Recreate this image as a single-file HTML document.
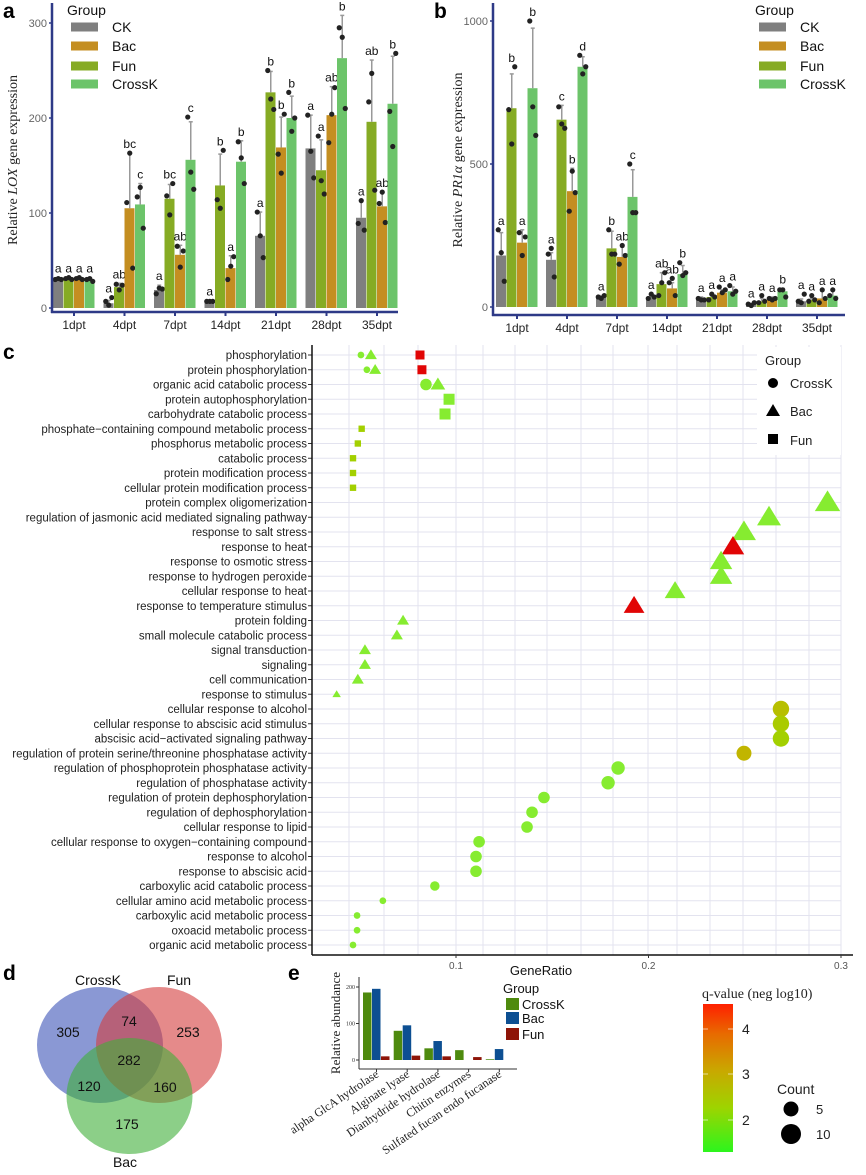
<!DOCTYPE html>
<html><head><meta charset="utf-8"><style>
html,body{margin:0;padding:0;background:#fff;}
svg{display:block;font-family:"Liberation Sans",sans-serif;}
</style></head><body>
<svg id="fig" width="866" height="1175" viewBox="0 0 866 1175" xmlns="http://www.w3.org/2000/svg">
<defs>
<linearGradient id="qgrad" x1="0" y1="1" x2="0" y2="0">
<stop offset="0" stop-color="#2cf51d"/><stop offset="0.3" stop-color="#9ed400"/><stop offset="0.55" stop-color="#c9a800"/><stop offset="0.8" stop-color="#e86a00"/><stop offset="1" stop-color="#ff2000"/>
</linearGradient>
</defs>
<g id="pa"></g>
<g id="pb"></g>
<g id="pc"></g>
<g id="pd">
<ellipse cx="100" cy="1045" rx="63" ry="58" fill="#3c53b7" fill-opacity="0.6"/>
<ellipse cx="159" cy="1045" rx="63" ry="58" fill="#d43c3c" fill-opacity="0.6"/>
<ellipse cx="129.5" cy="1096" rx="63" ry="58" fill="#3faf39" fill-opacity="0.6"/>
<g font-size="14" fill="#111" text-anchor="middle">
<text x="98" y="985">CrossK</text>
<text x="179" y="985">Fun</text>
<text x="125" y="1167">Bac</text>
<text x="68" y="1037">305</text>
<text x="129" y="1026">74</text>
<text x="188" y="1037">253</text>
<text x="129" y="1065">282</text>
<text x="89" y="1091">120</text>
<text x="165" y="1092">160</text>
<text x="127" y="1129">175</text>
</g>
</g>
<g id="pe"></g>
<g font-weight="bold" font-size="21" fill="#000">
<text x="3" y="18">a</text>
<text x="434" y="18">b</text>
<text x="3" y="359">c</text>
<text x="3" y="980">d</text>
<text x="288" y="980">e</text>
</g>
</svg>
<script>
// ---------- Panel a / b data ----------
const timeCats = ["1dpt","4dpt","7dpt","14dpt","21dpt","28dpt","35dpt"];
const seriesOrder = ["CK","Fun","Bac","CrossK"];
const aMeanCK = [30,5,19,6,76,168,95];
const aMeanFun = [30,22,115,129,227,145,196];
const aMeanBac = [30,105,56,42,169,203,107];
const aMeanCrossK = [30,109,156,154,200,263,215];
const aSdCK = [2,3,5,2,25,35,17];
const aSdFun = [2,4,15,33,22,32,65];
const aSdBac = [2,58,10,13,32,30,15];
const aSdCrossK = [2,22,40,22,23,45,50];
const aRepCK = [[30,31,30],[7,3,11],[15,21,20],[7,7,7],[101,76,53],[203,165,137],[89,113,82]];
const aRepFun = [[31,32,30],[25,19,24],[118,98,131],[114,105,166],[250,220,209],[181,134,120],[217,247,124]];
const aRepBac = [[31,32,30],[111,163,42],[65,43,60],[30,44,54],[162,142,204],[174,204,232],[110,122,90]];
const aRepCrossK = [[30,31,28],[117,127,84],[201,143,125],[175,158,131],[227,186,200],[295,285,210],[207,170,268]];
const aLetCK = ["a","a","a","a","a","a","a"];
const aLetFun = ["a","ab","bc","b","b","a","ab"];
const aLetBac = ["a","bc","ab","a","b","ab","ab"];
const aLetCrossK = ["a","c","c","b","b","b","b"];
const aTicks = [0,100,200,300];

const bMeanCK = [180,165,35,35,30,10,20];
const bMeanFun = [695,655,205,80,35,20,25];
const bMeanBac = [225,405,175,65,50,25,30];
const bMeanCrossK = [765,840,385,115,55,55,40];
const bSdCK = [80,25,5,10,5,3,8];
const bSdFun = [120,50,60,40,10,10,5];
const bSdBac = [45,80,35,20,10,10,25];
const bSdCrossK = [210,35,95,30,15,10,20];
const bRepCK = [[270,190,90],[185,205,105],[35,30,40],[30,45,35],[30,25,25],[10,5,15],[20,15,45]];
const bRepFun = [[690,570,840],[700,640,625],[270,185,185],[40,85,120],[25,45,35],[15,40,20],[20,40,25]];
const bRepBac = [[260,180,245],[335,475,400],[150,215,180],[85,100,40],[70,50,60],[30,25,30],[15,60,30]];
const bRepCrossK = [[1000,700,600],[880,815,840],[500,330,330],[155,110,120],[75,45,55],[60,60,35],[40,60,30]];
const bLetCK = ["a","a","a","a","a","a","a"];
const bLetFun = ["b","c","b","ab","a","a","a"];
const bLetBac = ["a","b","ab","ab","a","a","a"];
const bLetCrossK = ["b","d","c","b","a","b","a"];
const bTicks = [0,500,1000];

// ---------- Panel c data ----------
const goTerms = ["phosphorylation","protein phosphorylation","organic acid catabolic process","protein autophosphorylation","carbohydrate catabolic process","phosphate\u2212containing compound metabolic process","phosphorus metabolic process","catabolic process","protein modification process","cellular protein modification process","protein complex oligomerization","regulation of jasmonic acid mediated signaling pathway","response to salt stress","response to heat","response to osmotic stress","response to hydrogen peroxide","cellular response to heat","response to temperature stimulus","protein folding","small molecule catabolic process","signal transduction","signaling","cell communication","response to stimulus","cellular response to alcohol","cellular response to abscisic acid stimulus","abscisic acid\u2212activated signaling pathway","regulation of protein serine/threonine phosphatase activity","regulation of phosphoprotein phosphatase activity","regulation of phosphatase activity","regulation of protein dephosphorylation","regulation of dephosphorylation","cellular response to lipid","cellular response to oxygen\u2212containing compound","response to alcohol","response to abscisic acid","carboxylic acid catabolic process","cellular amino acid metabolic process","carboxylic acid metabolic process","oxoacid metabolic process","organic acid metabolic process"];
const ptTerm =  [0,0,0, 1,1,1, 2,2, 3,4, 5,6,7,8,9, 10,11,12,13,14,15,16,17,18,19,20,21,22,23, 24,25,26,27,28,29,30,31,32,33,34,35,36,37,38,39,40];
const ptGroup = ["CrossK","Bac","Fun","CrossK","Bac","Fun","CrossK","Bac","Fun","Fun","Fun","Fun","Fun","Fun","Fun","Bac","Bac","Bac","Bac","Bac","Bac","Bac","Bac","Bac","Bac","Bac","Bac","Bac","Bac","CrossK","CrossK","CrossK","CrossK","CrossK","CrossK","CrossK","CrossK","CrossK","CrossK","CrossK","CrossK","CrossK","CrossK","CrossK","CrossK","CrossK"];
const ptRatio = [0.0506,0.0558,0.0813, 0.0537,0.058,0.0823, 0.0844,0.0906, 0.0964,0.0943, 0.051,0.049,0.0465,0.0465,0.0465, 0.293,0.2626,0.2496,0.2439,0.2377,0.2377,0.2138,0.1925,0.0725,0.0693,0.0527,0.0527,0.049,0.038, 0.2688,0.2688,0.2688,0.2496,0.1842,0.179,0.1457,0.1395,0.1369,0.112,0.1104,0.1104,0.089,0.062,0.0486,0.0486,0.0465];
const ptCount = [1,2,2, 1,2,2, 3,3, 3,3, 1,1,1,1,1, 9,8,8,7,7,7,6,6,2,2,2,2,2,1, 6,6,6,5,4,4,3,3,3,3,3,3,2,1,1,1,1];
const ptQ = [1.9,1.9,4.4, 1.9,1.9,4.4, 1.9,1.9, 2.0,1.9, 2.2,2.2,2.2,2.2,2.2, 1.9,1.9,1.9,4.4,1.9,1.9,1.9,4.4,1.9,1.9,1.9,1.9,1.9,1.9, 2.5,2.3,2.2,2.7,2.0,2.0,1.9,1.9,1.9,1.9,1.9,1.9,1.9,1.9,1.9,1.9,1.9];
const cTicks = [0.1,0.2,0.3];

// ---------- Panel e data ----------
const eCats = ["alpha GlcA hydrolase","Alginate lyase","Dianhydride hydrolase","Chitin enzymes","Sulfated fucan endo fucanase"];
const eCrossK = [185,80,32,27,2];
const eBac = [195,95,52,0,30];
const eFun = [10,12,10,8,0];
const eTicks = [0,100,200];

const NS="http://www.w3.org/2000/svg";
function mk(tag, attrs, parent, text){
  const e=document.createElementNS(NS,tag);
  for(const k in attrs) e.setAttribute(k,attrs[k]);
  if(text!==undefined) e.textContent=text;
  parent.appendChild(e); return e;
}
const colors={CK:"#7f7f7f",Bac:"#c48e21",Fun:"#86ab24",CrossK:"#6cc46a"};

function barPanel(g, cfg){
  const y=v=>cfg.y0 - v*cfg.k;
  let t=mk("text",{x:cfg.legX-4,y:15,"font-size":14,fill:"#111"},g,"Group");
  
  
  const legOrder=["CK","Bac","Fun","CrossK"], legY=[27,46,66,84];
  legOrder.forEach((s,i)=>{
    let r=mk("rect",{x:cfg.legX,y:legY[i]-4.5,width:27,height:9,fill:colors[s]},g);
    
    
    let tt=mk("text",{x:cfg.legX+41,y:legY[i]+5,"font-size":14,fill:"#111"},g,s);
    
    
  });
  cfg.ticks.forEach(v=>{
    let l=mk("text",{x:cfg.axX-5,y:y(v)+4,"font-size":11,fill:"#666","text-anchor":"end"},g,String(v));
    
    
    mk("line",{x1:cfg.axX-3,x2:cfg.axX,y1:y(v),y2:y(v),stroke:"#2e3a87","stroke-width":1.5},g);
  });
  const series={CK:[cfg.m.CK,cfg.sd.CK,cfg.rep.CK,cfg.let.CK],Fun:[cfg.m.Fun,cfg.sd.Fun,cfg.rep.Fun,cfg.let.Fun],Bac:[cfg.m.Bac,cfg.sd.Bac,cfg.rep.Bac,cfg.let.Bac],CrossK:[cfg.m.CrossK,cfg.sd.CrossK,cfg.rep.CrossK,cfg.let.CrossK]};
  const jit=[-3,0,3];
  timeCats.forEach((c,ci)=>{
    seriesOrder.forEach((s,si)=>{
      const [m,sd,rep,lt]=series[s];
      const x=cfg.gx0+ci*cfg.gstep+si*cfg.bw;
      let b=mk("rect",{x:x,y:y(m[ci]),width:cfg.bw-0.5,height:m[ci]*cfg.k,fill:colors[s]},g);
      
      
      const cx=x+cfg.bw/2, top=y(m[ci]+sd[ci]);
      mk("line",{x1:cx,x2:cx,y1:y(m[ci]),y2:top,stroke:"#999","stroke-width":1.5},g);
      mk("line",{x1:cx-2,x2:cx+2,y1:top,y2:top,stroke:"#999","stroke-width":1.5},g);
      let mx=m[ci]+sd[ci];
      rep[ci].forEach((v,ri)=>{
        mx=Math.max(mx,v);
        let d=mk("circle",{cx:cx+jit[ri],cy:y(v),r:2.6,fill:"#222"},g);
        
        
      });
      let lt2=mk("text",{x:cx,y:Math.min(y(mx)-5,y(m[ci])-6),"font-size":12,fill:"#111","text-anchor":"middle"},g,lt[ci]);
      
      
    });
    const tx=cfg.gx0+ci*cfg.gstep+2*cfg.bw;
    mk("line",{x1:tx,x2:tx,y1:cfg.axY,y2:cfg.axY+4,stroke:"#2e3a87","stroke-width":2},g);
    let xl=mk("text",{x:tx,y:cfg.axY+17,"font-size":12,fill:"#222","text-anchor":"middle"},g,c);
    
    
  });
  let ya=mk("line",{x1:cfg.axX,x2:cfg.axX,y1:3,y2:cfg.axY+1,stroke:"#2e3a87","stroke-width":2.5},g);
  
  
  let xa=mk("line",{x1:cfg.axX-1,x2:cfg.axEnd,y1:cfg.axY,y2:cfg.axY,stroke:"#2e3a87","stroke-width":2.5},g);
  
  
  let yt=mk("text",{transform:`translate(${cfg.ytX},160) rotate(-90)`,"font-size":14,"text-anchor":"middle","font-family":"Liberation Serif, serif",fill:"#222"},g);
  
  
  mk("tspan",{},yt,"Relative ");
  mk("tspan",{"font-style":"italic"},yt,cfg.gene);
  mk("tspan",{},yt," gene expression");
}
barPanel(document.getElementById("pa"),{y0:308,k:0.95,axX:52,axY:312,axEnd:398,gx0:53,gstep:50.5,bw:10.5,ticks:aTicks,legX:71,ytX:17,gene:"LOX",
  m:{CK:aMeanCK,Fun:aMeanFun,Bac:aMeanBac,CrossK:aMeanCrossK},sd:{CK:aSdCK,Fun:aSdFun,Bac:aSdBac,CrossK:aSdCrossK},
  rep:{CK:aRepCK,Fun:aRepFun,Bac:aRepBac,CrossK:aRepCrossK},let:{CK:aLetCK,Fun:aLetFun,Bac:aLetBac,CrossK:aLetCrossK}});
barPanel(document.getElementById("pb"),{y0:307,k:0.286,axX:493,axY:315,axEnd:845,gx0:496,gstep:50,bw:10.5,ticks:bTicks,legX:759,ytX:462,gene:"PR1\u03b1",
  m:{CK:bMeanCK,Fun:bMeanFun,Bac:bMeanBac,CrossK:bMeanCrossK},sd:{CK:bSdCK,Fun:bSdFun,Bac:bSdBac,CrossK:bSdCrossK},
  rep:{CK:bRepCK,Fun:bRepFun,Bac:bRepBac,CrossK:bRepCrossK},let:{CK:bLetCK,Fun:bLetFun,Bac:bLetBac,CrossK:bLetCrossK}});

// ---------- Panel c ----------
(function(){
  const g=document.getElementById("pc");
  const xs=v=>456+(v-0.1)*1925;
  const ys=i=>355+i*14.75;
  const left=312, right=841, top=345, bot=955;
  [349,384,418,456,483,515,547,581,613,648,677,710,743,776,809,841].forEach(x=>{
    mk("line",{x1:x,x2:x,y1:top,y2:bot,stroke:"#e3e3ef","stroke-width":1},g);
  });
  goTerms.forEach((t,i)=>{
    mk("line",{x1:left,x2:right,y1:ys(i),y2:ys(i),stroke:"#e3e3ef","stroke-width":1},g);
    let l=mk("text",{x:307,y:ys(i)+4,"font-size":11.5,fill:"#222","text-anchor":"end"},g,t);
    
    
    mk("line",{x1:308,x2:312,y1:ys(i),y2:ys(i),stroke:"#333","stroke-width":1},g);
  });
  function qcol(q){
    const stops=[[1.3,[44,245,29]],[2.0,[150,220,0]],[2.6,[190,185,0]],[3.0,[201,168,0]],[4.0,[232,106,0]],[4.4,[225,5,5]],[4.55,[255,0,0]]];
    if(q<=stops[0][0])return "rgb("+stops[0][1]+")";
    for(let i=1;i<stops.length;i++){if(q<=stops[i][0]){const a=stops[i-1],b=stops[i];const t=(q-a[0])/(b[0]-a[0]);return "rgb("+a[1].map((c,j)=>Math.round(c+(b[1][j]-c)*t)).join(",")+")";}}
    return "rgb(255,0,0)";
  }
  mk("rect",{x:757,y:347,width:84,height:108,fill:"#fff"},g);
  ptTerm.forEach((ti,k)=>{
    const cx=xs(ptRatio[k]), cy=ys(ti), r=3.35*Math.sqrt(ptCount[k]);
    let fill=qcol(ptQ[k]); if(ptQ[k]<2.05&&ptQ[k]>1.8)fill="#86ec30";
    let el;
    if(ptGroup[k]==="CrossK") el=mk("circle",{cx:cx,cy:cy,r:r,fill:fill},g);
    else if(ptGroup[k]==="Bac"){const h=r*1.15;el=mk("polygon",{points:`${cx},${cy-h*1.05} ${cx-h*1.1},${cy+h*0.75} ${cx+h*1.1},${cy+h*0.75}`,fill:fill},g);}
    else {const h=r*0.95;el=mk("rect",{x:cx-h,y:cy-h,width:2*h,height:2*h,fill:fill},g);}
    
    
  });
  let ya=mk("line",{x1:left,x2:left,y1:top,y2:bot,stroke:"#111","stroke-width":1.5},g);
  
  
  let xa=mk("line",{x1:left,x2:853,y1:bot,y2:bot,stroke:"#111","stroke-width":1.5},g);
  
  
  cTicks.forEach(v=>{
    mk("line",{x1:xs(v),x2:xs(v),y1:bot,y2:bot+3,stroke:"#333"},g);
    let l=mk("text",{x:xs(v),y:bot+14,"font-size":10,fill:"#555","text-anchor":"middle"},g,String(v));
    
    
  });
  let xt=mk("text",{x:541,y:975,"font-size":13,fill:"#111","text-anchor":"middle"},g,"GeneRatio");
  
  
  let lt=mk("text",{x:765,y:365,"font-size":13,fill:"#222"},g,"Group");
  
  
  mk("circle",{cx:773,cy:383,r:5,fill:"#000"},g);
  mk("polygon",{points:"773,404 766,416 780,416",fill:"#000"},g);
  mk("rect",{x:768,y:434,width:10,height:10,fill:"#000"},g);
  [["CrossK",388],["Bac",416],["Fun",445]].forEach(([s,yy])=>{
    let l=mk("text",{x:790,y:yy,"font-size":13,fill:"#222"},g,s);
    
    
  });
  let qt=mk("text",{x:702,y:998,"font-size":14,fill:"#222","font-family":"Liberation Serif, serif"},g,"q-value (neg log10)");
  
  
  let cb=mk("rect",{x:703,y:1004,width:30,height:148,fill:"url(#qgrad)"},g);
  
  
  [[4,1029],[3,1074],[2,1120]].forEach(([v,yy])=>{
    mk("line",{x1:703,x2:708,y1:yy,y2:yy,stroke:"#fff","stroke-opacity":0.6},g);
    mk("line",{x1:728,x2:733,y1:yy,y2:yy,stroke:"#fff","stroke-opacity":0.6},g);
    let l=mk("text",{x:742,y:yy+5,"font-size":14,fill:"#222"},g,String(v));
    
    
  });
  let ct=mk("text",{x:777,y:1094,"font-size":14,fill:"#222"},g,"Count");
  
  
  mk("circle",{cx:791,cy:1109,r:7.5,fill:"#000"},g);
  mk("circle",{cx:791,cy:1134,r:10,fill:"#000"},g);
  mk("text",{x:816,y:1114,"font-size":13,fill:"#222"},g,"5");
  mk("text",{x:816,y:1139,"font-size":13,fill:"#222"},g,"10");
})();

// ---------- Panel e ----------
(function(){
  const g=document.getElementById("pe");
  const y=v=>1060-v*0.365;
  const gx0=363, gstep=30.7, bw=9;
  const ecol={CrossK:"#4e8a0e",Bac:"#0d4f92",Fun:"#8e1508"};
  const ser=[["CrossK",eCrossK],["Bac",eBac],["Fun",eFun]];
  eCats.forEach((c,ci)=>{
    ser.forEach(([s,arr],si)=>{
      if(arr[ci]<=0)return;
      let b=mk("rect",{x:gx0+ci*gstep+si*bw,y:y(arr[ci]),width:bw-0.5,height:arr[ci]*0.365,fill:ecol[s]},g);
      
      
    });
    const tx=gx0+ci*gstep+1.5*bw;
    mk("line",{x1:tx,x2:tx,y1:1069,y2:1072,stroke:"#333"},g);
    let l=mk("text",{transform:`translate(${tx+3},1076) rotate(-34)`,"font-size":12,"text-anchor":"end","font-family":"Liberation Serif, serif",fill:"#222"},g,c);
    
    
  });
  eTicks.forEach(v=>{
    mk("line",{x1:356,x2:359,y1:y(v),y2:y(v),stroke:"#333"},g);
    let l=mk("text",{x:355,y:y(v)+2,"font-size":6,"text-anchor":"end","font-family":"Liberation Serif, serif",fill:"#333"},g,String(v));
    
    
  });
  mk("line",{x1:359,x2:359,y1:977,y2:1069,stroke:"#333","stroke-width":1},g);
  mk("line",{x1:359,x2:517,y1:1069,y2:1069,stroke:"#333","stroke-width":1},g);
  let yt=mk("text",{transform:"translate(340,1023) rotate(-90)","font-size":13,"text-anchor":"middle","font-family":"Liberation Serif, serif",fill:"#222"},g,"Relative abundance");
  
  
  let lt=mk("text",{x:503,y:993,"font-size":13,fill:"#111"},g,"Group");
  
  
  [["CrossK",998],["Bac",1012],["Fun",1028]].forEach(([s,yy])=>{
    mk("rect",{x:506,y:yy,width:13,height:12,fill:ecol[s]},g);
    let l=mk("text",{x:522,y:yy+11,"font-size":13,fill:"#111"},g,s);
    
    
  });
})();
</script>
</body></html>
